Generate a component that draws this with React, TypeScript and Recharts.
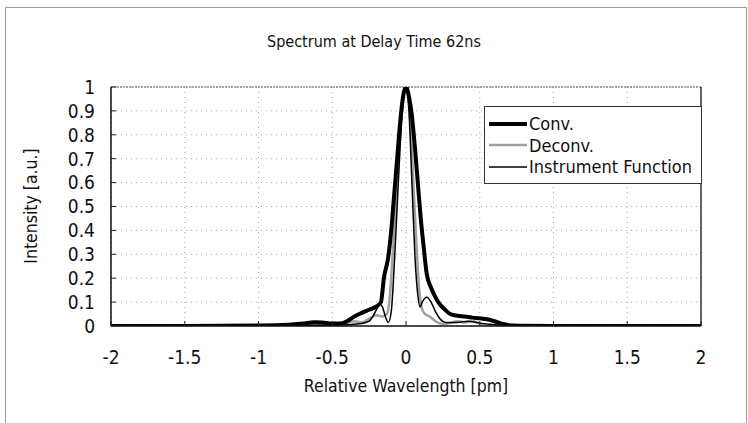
import React from 'react';
import { LineChart, Line, XAxis, YAxis, CartesianGrid, ReferenceLine } from 'recharts';

const FONT = "'DejaVu Sans Condensed', 'DejaVu Sans', sans-serif";

const chartTitle = 'Spectrum at Delay Time 62ns';
const xTitle = 'Relative Wavelength [pm]';
const yTitle = 'Intensity [a.u.]';
const seriesNames = ['Conv.', 'Deconv.', 'Instrument Function'];

const xTicks = [-2, -1.5, -1, -0.5, 0, 0.5, 1, 1.5, 2];
const yTicks = [0, 0.1, 0.2, 0.3, 0.4, 0.5, 0.6, 0.7, 0.8, 0.9, 1];

const convX = [-2, -1.5, -1, -0.8, -0.7, -0.62, -0.57, -0.5, -0.45, -0.4, -0.35, -0.3, -0.25, -0.2, -0.17, -0.15, -0.12, -0.1, -0.08, -0.06, -0.04, -0.02, 0, 0.02, 0.04, 0.06, 0.08, 0.1, 0.12, 0.14, 0.17, 0.2, 0.23, 0.27, 0.3, 0.35, 0.4, 0.45, 0.5, 0.55, 0.6, 0.65, 0.7, 0.8, 1, 2];
const convY = [0, 0, 0.002, 0.005, 0.01, 0.016, 0.015, 0.01, 0.01, 0.02, 0.04, 0.055, 0.068, 0.082, 0.1, 0.2, 0.29, 0.4, 0.55, 0.7, 0.85, 0.96, 1.0, 0.96, 0.88, 0.75, 0.6, 0.45, 0.33, 0.22, 0.16, 0.12, 0.09, 0.065, 0.05, 0.043, 0.04, 0.035, 0.032, 0.028, 0.02, 0.01, 0.003, 0.001, 0, 0];

const deconvX = [-2, -1, -0.7, -0.6, -0.5, -0.45, -0.4, -0.35, -0.3, -0.25, -0.2, -0.16, -0.13, -0.11, -0.09, -0.07, -0.05, -0.03, -0.01, 0, 0.01, 0.03, 0.05, 0.07, 0.09, 0.11, 0.13, 0.16, 0.2, 0.25, 0.3, 0.35, 0.4, 0.45, 0.5, 0.6, 0.7, 1, 2];
const deconvY = [0, 0.001, 0.003, 0.006, 0.004, 0.008, 0.012, 0.02, 0.015, 0.03, 0.045, 0.04, 0.05, 0.12, 0.3, 0.5, 0.7, 0.88, 0.98, 1.0, 0.98, 0.85, 0.6, 0.35, 0.15, 0.07, 0.05, 0.04, 0.02, 0.008, 0.012, 0.02, 0.015, 0.02, 0.01, 0.004, 0.001, 0, 0];

const instX = [-2, -1, -0.5, -0.4, -0.3, -0.25, -0.22, -0.19, -0.175, -0.16, -0.14, -0.12, -0.1, -0.08, -0.06, -0.04, -0.02, 0, 0.02, 0.04, 0.06, 0.08, 0.095, 0.11, 0.14, 0.17, 0.2, 0.23, 0.27, 0.35, 0.42, 0.5, 0.6, 0.8, 2];
const instY = [0, 0, 0.003, 0.005, 0.01, 0.02, 0.045, 0.08, 0.09, 0.08, 0.04, 0.015, 0.06, 0.25, 0.5, 0.75, 0.93, 1.0, 0.9, 0.6, 0.3, 0.13, 0.08, 0.1, 0.12, 0.1, 0.06, 0.03, 0.015, 0.015, 0.02, 0.012, 0.005, 0, 0];

const toPts = (xs: number[], ys: number[]) => xs.map((x, i) => ({ x, y: ys[i] }));
const convData = toPts(convX, convY);
const deconvData = toPts(deconvX, deconvY);
const instData = toPts(instX, instY);

const fmt = (v: number) => String(Math.round(v * 10) / 10);

const YTick = (props: any) => {
  const { x, y, payload } = props;
  return (
    <g>
      <line x1={x + 16} x2={x + 21} y1={y} y2={y} stroke="#222" strokeWidth={1} />
      <text x={x} y={y} dy="0.36em" textAnchor="end" fontSize={19} fontFamily={FONT} fill="#111">{fmt(payload.value)}</text>
    </g>
  );
};

const XTick = (props: any) => {
  const { x, y, payload } = props;
  return (
    <g>
      <line x1={x} x2={x} y1={y - 25} y2={y - 30} stroke="#222" strokeWidth={1} />
      <text x={x} y={y} dy="0.71em" textAnchor="middle" fontSize={19} fontFamily={FONT} fill="#111">{fmt(payload.value)}</text>
    </g>
  );
};

const legendItems = [
  { name: seriesNames[0], color: '#000', width: 4 },
  { name: seriesNames[1], color: '#a0a0a0', width: 2.5 },
  { name: seriesNames[2], color: '#000', width: 1.5 },
];

export default function App() {
  return (
    <div style={{ position: 'absolute', left: 0, top: 0, width: 748, height: 423, background: '#fff', overflow: 'hidden', fontFamily: FONT, color: '#111' }}>
      <div style={{ position: 'absolute', left: 5, top: 7, width: 740, height: 440, border: '1px solid #9a9a9a' }} />
      <div style={{ position: 'absolute', left: 0, top: 0 }}>
        <LineChart width={748} height={423} margin={{ top: 87, right: 47, bottom: 57, left: 0 }}>
          <CartesianGrid stroke="#a8a8a8" strokeDasharray="1 4" />
          <XAxis type="number" dataKey="x" domain={[-2, 2]} ticks={xTicks} allowDataOverflow height={40}
            tickSize={0} tickMargin={25} axisLine={{ stroke: '#111', strokeWidth: 1.5 }} tickLine={false} tick={<XTick />} />
          <YAxis type="number" domain={[0, 1]} ticks={yTicks} width={111} allowDataOverflow
            tickSize={0} tickMargin={16} axisLine={{ stroke: '#111', strokeWidth: 1.5 }} tickLine={false} tick={<YTick />} />
          <ReferenceLine x={2} stroke="#333" strokeWidth={1.5} />
          <ReferenceLine y={1} stroke="#555" strokeWidth={1} strokeDasharray="2 1" />
          <Line data={deconvData} dataKey="y" type="monotone" stroke="#a0a0a0" strokeWidth={2.5} dot={false} isAnimationActive={false} />
          <Line data={instData} dataKey="y" type="monotone" stroke="#000" strokeWidth={1.5} dot={false} isAnimationActive={false} />
          <Line data={convData} dataKey="y" type="monotone" stroke="#000" strokeWidth={4} dot={false} isAnimationActive={false} />
        </LineChart>
      </div>
      <div style={{ position: 'absolute', left: 0, width: 748, top: 32, textAlign: 'center', fontSize: 16, lineHeight: '20px' }}>{chartTitle}</div>
      <div style={{ position: 'absolute', left: 111, width: 590, top: 376, textAlign: 'center', fontSize: 17.5, lineHeight: '20px' }}>{xTitle}</div>
      <div style={{ position: 'absolute', left: 31, top: 206, width: 0, height: 0 }}>
        <div style={{ position: 'absolute', left: -100, top: -10, width: 200, textAlign: 'center', fontSize: 17.5, lineHeight: '20px', transform: 'rotate(-90deg)', whiteSpace: 'nowrap' }}>{yTitle}</div>
      </div>
      <div style={{ position: 'absolute', left: 484, top: 106, width: 218, height: 78, border: '1px solid #333', background: '#fff', boxSizing: 'border-box', paddingTop: 6, paddingLeft: 2 }}>
        {legendItems.map((it) => (
          <div key={it.name} style={{ display: 'flex', alignItems: 'center', height: 21.5, fontSize: 18 }}>
            <svg width={42} height={10} style={{ flex: 'none' }}>
              <line x1={2} x2={40} y1={5} y2={5} stroke={it.color} strokeWidth={it.width} />
            </svg>
            <span style={{ whiteSpace: 'nowrap' }}>{it.name}</span>
          </div>
        ))}
      </div>
    </div>
  );
}
